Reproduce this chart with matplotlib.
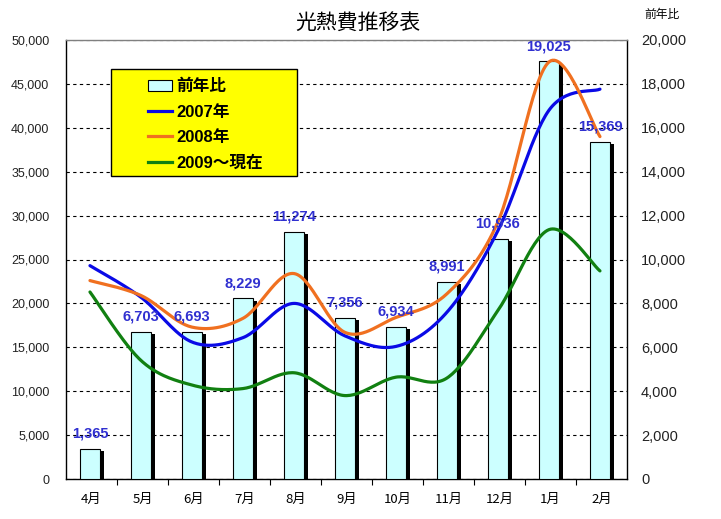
import numpy as np
import matplotlib
matplotlib.use("Agg")
import matplotlib.pyplot as plt
from matplotlib.patches import Patch, Rectangle
from matplotlib.lines import Line2D
from matplotlib import patheffects as pe
from matplotlib.ticker import FuncFormatter, FixedLocator

plt.rcParams['font.family'] = ['Liberation Sans', 'Noto Sans CJK JP']

months = ['4月', '5月', '6月', '7月', '8月', '9月', '10月', '11月', '12月', '1月', '2月']
yoy = [1365, 6703, 6693, 8229, 11274, 7356, 6934, 8991, 10936, 19025, 15369]
y2007 = [24300, 20700, 15600, 16100, 20000, 16300, 15100, 19000, 28300, 42000, 44400]
y2008 = [22600, 20900, 17300, 18300, 23400, 16700, 18400, 21100, 29300, 47500, 39000]
y2009 = [21300, 13500, 10700, 10300, 12100, 9500, 11600, 11500, 19200, 28400, 23700]
series_labels = ['2007年', '2008年', '2009～現在']
series_colors = ['#0A0AE6', '#F07020', '#118011']
bar_label = '前年比'


def smooth(y, n=30):
    y = np.asarray(y, float)
    x = np.arange(len(y), dtype=float)
    P = np.concatenate([[y[0]], y, [y[-1]]])
    X = np.concatenate([[x[0]], x, [x[-1]]])
    t = np.linspace(0, 1, n)
    xs, ys = [], []
    for i in range(len(y) - 1):
        for arr, out in ((X, xs), (P, ys)):
            p0, p1 = arr[i + 1], arr[i + 2]
            c1 = p0 + (arr[i + 2] - arr[i]) / 6.0
            c2 = p1 - (arr[i + 3] - arr[i + 1]) / 6.0
            b = ((1 - t) ** 3) * p0 + 3 * ((1 - t) ** 2) * t * c1 + 3 * (1 - t) * t ** 2 * c2 + t ** 3 * p1
            out.append(b if i == 0 else b[1:])
    return np.concatenate(xs), np.concatenate(ys)


W, H = 721, 519
fig = plt.figure(figsize=(W / 100, H / 100), dpi=100)
ax = fig.add_axes([66 / W, 40 / H, 561 / W, 439 / H])
ax2 = ax.twinx()

x = np.arange(len(months))
fmt = FuncFormatter(lambda v, p: f'{int(v):,}')

# bars (right axis)
bars = ax.bar(x - 0.03, yoy, width=0.39, color='#CCFFFF', edgecolor='black', linewidth=0.8, zorder=3)
for b in bars:
    b.set_path_effects([pe.SimplePatchShadow(offset=(3.0, -1.6), shadow_rgbFace='black', alpha=1.0), pe.Normal()])
ax.set_ylim(0, 20000)
ax.set_xlim(-0.5, len(months) - 0.5)
ax.yaxis.set_major_locator(FixedLocator(np.arange(0, 20001, 2000)))
ax.yaxis.set_major_formatter(fmt)
ax.yaxis.tick_right()
ax.tick_params(axis='y', length=0, pad=10, labelsize=10.5, labelcolor='#222222')
ax.set_axisbelow(True)
ax.yaxis.grid(True, color='black', linestyle=(0, (3, 3)), linewidth=0.8)

ax.set_xticks(x)
ax.set_xticklabels(months, fontsize=9.5, family=['Noto Sans CJK JP'])
ax.set_xticks(np.arange(0.5, len(months) - 1, 1.0), minor=True)
ax.tick_params(axis='x', which='major', length=0, pad=10)
ax.tick_params(axis='x', which='minor', length=4, width=0.8, direction='out')

for s in ['left', 'right', 'bottom']:
    ax.spines[s].set_color('black')
    ax.spines[s].set_linewidth(1.0)
ax.spines['top'].set_color('#808080')
ax.spines['top'].set_linewidth(1.0)
for s in ax2.spines.values():
    s.set_visible(False)

# lines (left axis)
for vals, c in zip([y2007, y2008, y2009], series_colors):
    xs, ys = smooth(vals)
    ax2.plot(xs - 0.03, ys, color=c, linewidth=2.3, solid_capstyle='round', zorder=3)
ax2.set_ylim(0, 50000)
ax2.yaxis.set_major_locator(FixedLocator(np.arange(0, 50001, 5000)))
ax2.yaxis.set_major_formatter(fmt)
ax2.yaxis.tick_left()
ax2.tick_params(axis='y', length=0, pad=12, labelsize=9, labelcolor='#222222')

# data labels
for xi, v in zip(x, yoy):
    ax2.annotate(f'{v:,}', xy=(xi - 0.03, v), xycoords=ax.transData, xytext=(0, 11),
                 textcoords='offset points', ha='center', va='center', fontsize=10.5,
                 fontweight='bold', color='#3030D0', zorder=6, annotation_clip=False)

# title and right-axis name
fig.text(358 / W, 1 - 23 / H, '光熱費推移表', ha='center', va='center', fontsize=15,
         family=['Noto Sans CJK JP'])
fig.text(662 / W, 1 - 14 / H, '前年比', ha='center', va='center', fontsize=8.5,
         family=['Noto Sans CJK JP'])

# legend box
rect = Rectangle((111 / W, 1 - 176 / H), 186 / W, 107 / H, transform=fig.transFigure,
                 facecolor='#FFFF00', edgecolor='black', linewidth=1.0, zorder=7, clip_on=False)
ax2.add_artist(rect)
handles = [Patch(facecolor='#CCFFFF', edgecolor='black', linewidth=0.8)]
handles += [Line2D([], [], color=c, linewidth=2.3) for c in series_colors]
leg = ax2.legend(handles, [bar_label] + series_labels, loc='upper left',
                 bbox_to_anchor=(148 / W, 1 - 79 / H), bbox_transform=fig.transFigure,
                 frameon=False, borderpad=0, borderaxespad=0, handlelength=1.45,
                 handletextpad=0.25, labelspacing=0.62,
                 prop={'size': 12, 'weight': 'bold', 'family': ['Liberation Sans', 'Noto Sans CJK JP']})
leg.set_zorder(8)

fig.savefig('out.png', dpi=100)
